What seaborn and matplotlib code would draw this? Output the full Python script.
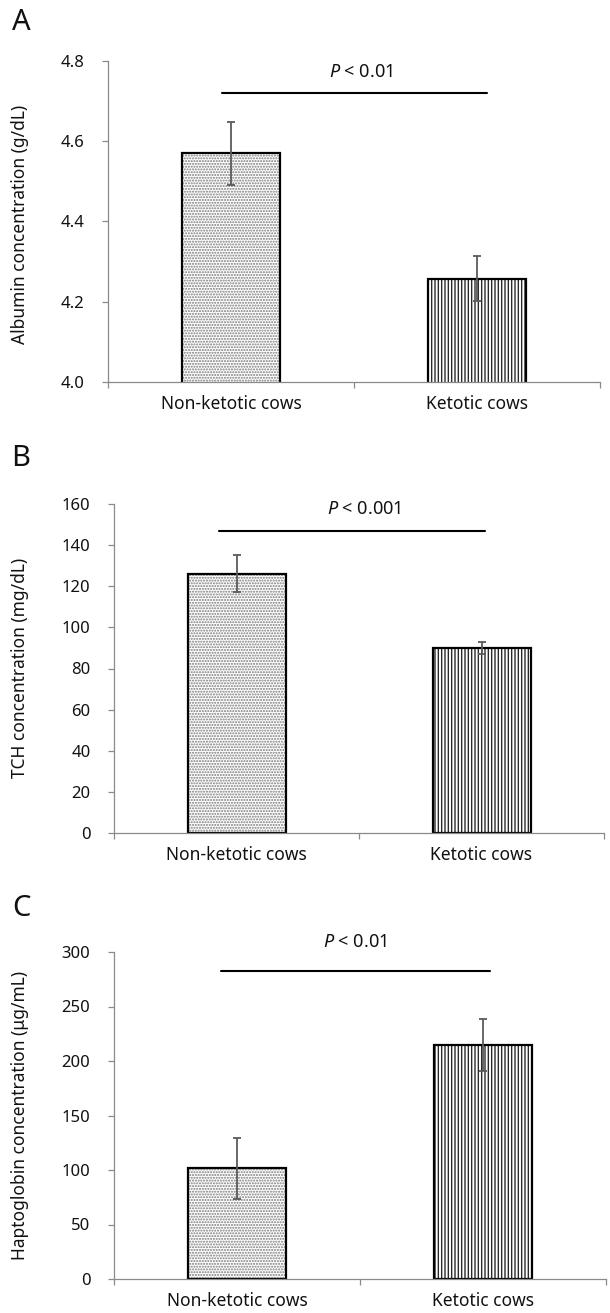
import matplotlib
matplotlib.use("Agg")
import matplotlib.pyplot as plt
import seaborn as sns
import pandas as pd

groups = ["Non-ketotic cows", "Ketotic cows"]

albumin_mean = [4.57, 4.257]
albumin_se = [0.078, 0.056]

tch_mean = [126, 90]
tch_se = [9, 3]

hp_mean = [101.6, 214.5]
hp_se = [28, 23.6]

sns.set_style("white")
plt.rcParams['font.family'] = ['Noto Sans', 'DejaVu Sans']
plt.rcParams['mathtext.fontset'] = 'custom'
plt.rcParams['mathtext.it'] = 'Noto Sans:italic'
plt.rcParams['mathtext.rm'] = 'Noto Sans'
plt.rcParams['hatch.linewidth'] = 1.0

W, H = 610, 1313
axisGray = "#8a8a8a"
hatches = ["......", "|||||"]
hatchColors = ["#7a7a7a", "#2a2a2a"]


def px(x0, y0, x1, y1):
    # pixel box (top-left origin) -> figure fraction rect
    return [x0 / W, 1 - y1 / H, (x1 - x0) / W, (y1 - y0) / H]


def drawPanel(fig, rect, means, errs, ylim, yticks, ylabel, labelY,
              pText, pY, lineY, lineX, textX, letter, letterY, tickFmt):
    ax = fig.add_axes(px(*rect))
    df = pd.DataFrame({"group": groups, "value": means})
    sns.barplot(data=df, x="group", y="value", ax=ax, width=0.4,
                color="white", edgecolor="black", linewidth=1.6,
                errorbar=None, zorder=2)
    for bar, h, c in zip(ax.patches, hatches, hatchColors):
        bar.set_hatch(h)
        bar._hatch_color = matplotlib.colors.to_rgba(c)
    ax.errorbar(x=[0, 1], y=means, yerr=errs, fmt='none', ecolor="#5a5a5a",
                elinewidth=1.3, capsize=3.2, capthick=1.3, zorder=3)

    ax.set_xlim(-0.5, 1.5)
    ax.set_ylim(*ylim)
    ax.set_yticks(yticks)
    ax.set_yticklabels([tickFmt.format(t) for t in yticks])
    ax.set_xticks([0, 1])
    ax.set_xticks([-0.5, 0.5, 1.5], minor=True)
    ax.tick_params(axis='x', which='major', length=0, pad=9.5, labelsize=12.5,
                   labelcolor="#111111")
    ax.tick_params(axis='x', which='minor', length=4.5, width=0.9,
                   color=axisGray, direction='out', bottom=True)
    ax.tick_params(axis='y', length=4.5, width=0.9, color=axisGray,
                   direction='out', left=True, pad=12.5, labelsize=12,
                   labelcolor="#111111")
    ax.set_xlabel("")
    ax.set_ylabel("")
    for s in ["top", "right"]:
        ax.spines[s].set_visible(False)
    for s in ["left", "bottom"]:
        ax.spines[s].set_color(axisGray)
        ax.spines[s].set_linewidth(0.9)
        ax.spines[s].set_zorder(4)

    fig.text(20 / W, 1 - labelY / H, ylabel, rotation=90, ha='center',
             va='center', fontsize=12.5, color="#111111")

    ax.plot(lineX, [lineY, lineY], color="black", lw=1.5, clip_on=False)
    ax.text(textX, pY, pText, ha='center', va='center', fontsize=13,
            color="#111111", clip_on=False)
    fig.text(21 / W, 1 - letterY / H, letter, ha='center', va='center',
             fontsize=21, color="#111111")
    return ax


fig = plt.figure(figsize=(W / 100, H / 100), dpi=100)

drawPanel(fig, (108, 61, 600, 382), albumin_mean, albumin_se,
          (4.0, 4.8), [4.0, 4.2, 4.4, 4.6, 4.8],
          "Albumin concentration (g/dL)", 224,
          r"$\it{P}$ < 0.01", 4.773, 4.72, [-0.035, 1.04], 0.53,
          "A", 23, "{:.1f}")

drawPanel(fig, (114, 504, 604, 833), tch_mean, tch_se,
          (0, 160), list(range(0, 161, 20)),
          "TCH concentration (mg/dL)", 668,
          r"$\it{P}$ < 0.001", 157.6, 147, [-0.07, 1.016], 0.52,
          "B", 458, "{:d}")

drawPanel(fig, (114, 952, 606, 1279), hp_mean, hp_se,
          (0, 300), list(range(0, 301, 50)),
          "Haptoglobin concentration (\u03bcg/mL)", 1115,
          r"$\it{P}$ < 0.01", 309, 283, [-0.067, 1.03], 0.48,
          "C", 908, "{:d}")

fig.savefig("out.png", dpi=100)
